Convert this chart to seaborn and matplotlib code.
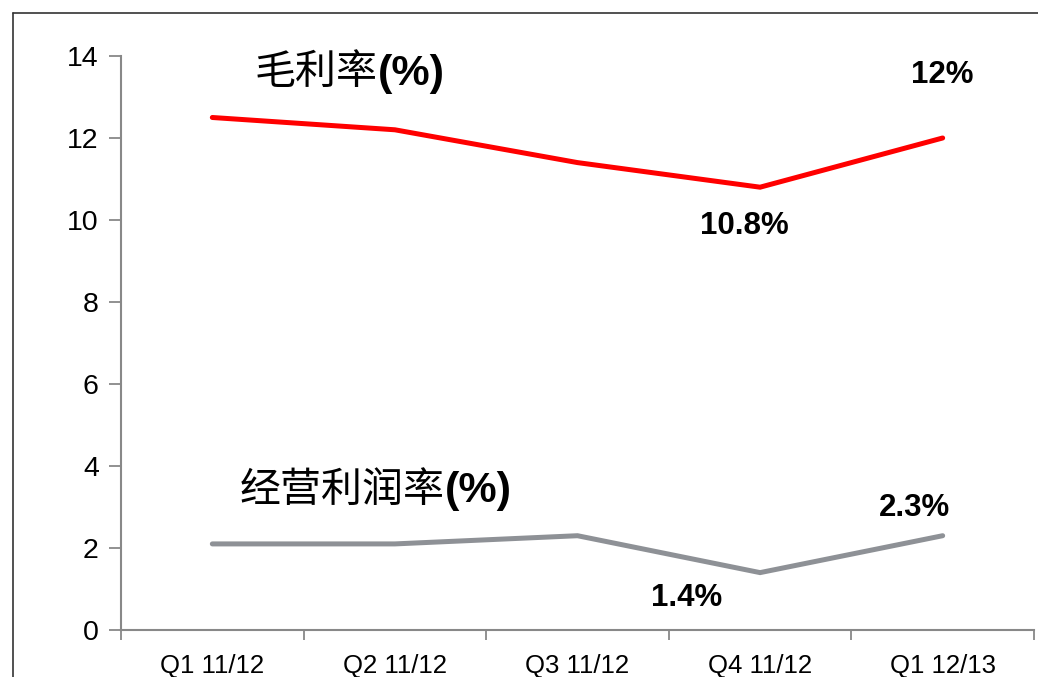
"""Gross margin vs operating margin by quarter."""

import matplotlib

matplotlib.use("Agg")

import matplotlib.pyplot as plt  # noqa: E402
import pandas as pd  # noqa: E402
import seaborn as sns  # noqa: E402
from matplotlib.lines import Line2D  # noqa: E402
from matplotlib.ticker import FixedLocator  # noqa: E402

QUARTERS = ["Q1 11/12", "Q2 11/12", "Q3 11/12", "Q4 11/12", "Q1 12/13"]
GROSS_MARGIN = [12.5, 12.2, 11.4, 10.8, 12.0]
OPERATING_MARGIN = [2.1, 2.1, 2.3, 1.4, 2.3]
Y_TICKS = [0, 2, 4, 6, 8, 10, 12, 14]

GROSS_NAME = "毛利率"
OPER_NAME = "经营利润率"
UNIT = "(%)"

RED = "#ff0000"
GREY = "#8e9196"
SPINE = "#888888"

sns.set_theme(style="white")
plt.rcParams["font.family"] = ["Liberation Sans", "Noto Sans CJK SC"]
plt.rcParams["text.color"] = "black"

df = pd.DataFrame({
    "quarter": QUARTERS * 2,
    "value": GROSS_MARGIN + OPERATING_MARGIN,
    "series": [GROSS_NAME] * len(QUARTERS) + [OPER_NAME] * len(QUARTERS),
})
df["pos"] = list(range(len(QUARTERS))) * 2

fig = plt.figure(figsize=(10.38, 6.77), dpi=100)
ax = fig.add_axes([0.1166, 0.0694, 0.8795, 0.8479])

sns.lineplot(data=df, x="pos", y="value", hue="series",
             palette={GROSS_NAME: RED, OPER_NAME: GREY},
             linewidth=3.6, legend=False, ax=ax, sort=False)
for line in ax.lines:
    line.set_solid_capstyle("round")
    line.set_solid_joinstyle("miter")

ax.set_xlim(-0.5, len(QUARTERS) - 0.5)
ax.set_ylim(0, 14)
ax.set_yticks(Y_TICKS)
ax.set_xticks(range(len(QUARTERS)))
ax.set_xticklabels(QUARTERS)
ax.xaxis.set_minor_locator(FixedLocator([i - 0.5 for i in range(len(QUARTERS) + 1)]))
ax.set_xlabel("")
ax.set_ylabel("")

for side in ["top", "right"]:
    ax.spines[side].set_visible(False)
for side in ["left", "bottom"]:
    ax.spines[side].set_color(SPINE)
    ax.spines[side].set_linewidth(1.5)

ax.tick_params(axis="y", which="major", direction="out", length=9, width=1.3,
               color=SPINE, pad=7, labelsize=20.5, labelcolor="black", left=True)
ax.tick_params(axis="x", which="major", length=0, pad=17, labelsize=18.5,
               labelcolor="black")
ax.tick_params(axis="x", which="minor", direction="out", length=7.5, width=1.3,
               color=SPINE, bottom=True)

# series names: chinese regular + bold unit
cjk = ["Noto Sans CJK SC", "DejaVu Sans"]
t1 = ax.text(0.23, 13.59, GROSS_NAME, fontsize=29.5, family=cjk,
             color="black", ha="left", va="center")
ax.annotate(UNIT, xy=(1, 0.5), xycoords=t1, xytext=(1, -1),
            textcoords="offset pixels", fontsize=31, fontweight="bold",
            color="black", ha="left", va="center")
t2 = ax.text(0.148, 3.41, OPER_NAME, fontsize=29.5, family=cjk,
             color="black", ha="left", va="center")
ax.annotate(UNIT, xy=(1, 0.5), xycoords=t2, xytext=(1, -1),
            textcoords="offset pixels", fontsize=31, fontweight="bold",
            color="black", ha="left", va="center")

# value labels (pixel offsets from the data point)
labels = [
    (4, GROSS_MARGIN[4], (0, 63)),
    (3, GROSS_MARGIN[3], (-16, -39)),
    (3, OPERATING_MARGIN[3], (-73, -25)),
    (4, OPERATING_MARGIN[4], (-28, 28)),
]
for x, v, off in labels:
    ax.annotate(f"{v:g}%", xy=(x, v), xytext=off, textcoords="offset pixels",
                fontsize=22.5, fontweight="bold", color="black",
                ha="center", va="center")

# frame lines of the original slide
fig.add_artist(Line2D([0.013, 0.013], [0, 0.9815], color="#333333", linewidth=1.2))
fig.add_artist(Line2D([0.013, 1.0], [0.9815, 0.9815], color="#333333", linewidth=1.2))

fig.savefig("out.png", dpi=100)
plt.close(fig)
